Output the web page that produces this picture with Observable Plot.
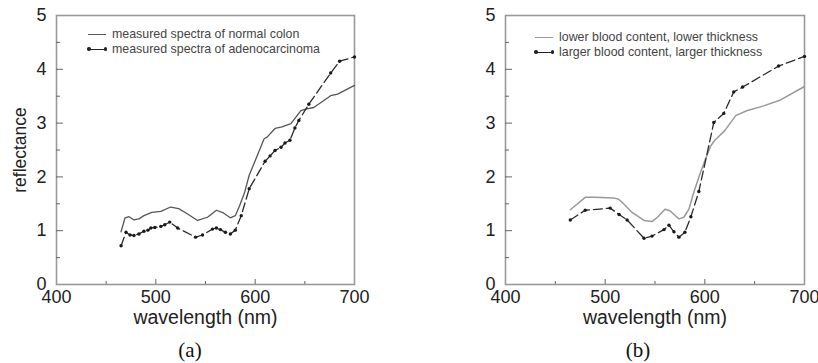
<!DOCTYPE html>
<html>
<head>
<meta charset="utf-8">
<script src="https://cdn.jsdelivr.net/npm/d3@7"></script>
<script src="https://cdn.jsdelivr.net/npm/@observablehq/plot@0.6"></script>
<style>
  html, body { margin: 0; padding: 0; background: #fff; width: 818px; height: 363px; overflow: hidden; }
  .panel { position: absolute; top: 0; }
  .panel svg { overflow: visible; }
  .cap { position: absolute; top: 338px; width: 200px; text-align: center; font: 21px "Liberation Serif", "Times New Roman", serif; line-height: 24px; color: #111; }
  .leg { position: absolute; font: 12.4px "Liberation Sans", Arial, Helvetica, sans-serif; color: #444; line-height: 16px; white-space: nowrap; }
  .samp { position: relative; display: inline-block; width: 18px; height: 16px; vertical-align: top; margin-right: 6px; }
  .samp .ln { position: absolute; left: 0; right: 0; top: 7.5px; height: 0; }
  .samp .dot { position: absolute; top: 6px; width: 3.5px; height: 3.5px; border-radius: 50%; background: #222; }
</style>
</head>
<body>
<div id="pa" class="panel" style="left:0px; width:410px;"></div>
<div id="pb" class="panel" style="left:410px; width:408px;"></div>

<div class="leg" style="left:88px; top:26px;"><span class="samp"><span class="ln" style="border-top:1.3px solid #555"></span></span>measured spectra of normal colon</div>
<div class="leg" style="left:88px; top:41px;"><span class="samp"><span class="ln" style="border-top:1.3px solid #222"></span><span class="dot" style="left:-1px"></span><span class="dot" style="right:-1px"></span></span>measured spectra of adenocarcinoma</div>

<div class="leg" style="left:535px; top:29px;"><span class="samp"><span class="ln" style="border-top:1.5px solid #999"></span></span>lower blood content, lower thickness</div>
<div class="leg" style="left:535px; top:44px;"><span class="samp"><span class="ln" style="border-top:1.3px solid #222"></span><span class="dot" style="left:-1px"></span><span class="dot" style="right:-1px"></span></span>larger blood content, larger thickness</div>

<div class="cap" style="left:90px;">(a)</div>
<div class="cap" style="left:538px;">(b)</div>

<script>
// ---- Panel (a) data ----
const normalWl = [465, 469, 473, 478, 483, 488, 496, 505, 515, 523, 532, 542, 552, 561, 568, 575, 580, 584, 589, 594, 600, 609, 612, 620, 627, 636, 641, 646, 651, 659, 676, 683, 700];
const normalR  = [0.98, 1.24, 1.26, 1.20, 1.22, 1.28, 1.34, 1.36, 1.44, 1.41, 1.31, 1.19, 1.25, 1.38, 1.33, 1.24, 1.28, 1.45, 1.69, 2.03, 2.30, 2.71, 2.74, 2.90, 2.93, 2.99, 3.11, 3.23, 3.26, 3.29, 3.51, 3.54, 3.70];
const adenoWl  = [465, 470, 474, 478, 483, 488, 492, 495, 499, 505, 509, 514, 522, 540, 547, 557, 561, 565, 570, 575, 580, 586, 594, 610, 615, 620, 626, 630, 635, 640, 644, 654, 676, 685, 700];
const adenoR   = [0.72, 0.97, 0.92, 0.91, 0.94, 0.99, 1.01, 1.05, 1.06, 1.08, 1.11, 1.16, 1.05, 0.88, 0.92, 1.03, 1.05, 1.02, 0.97, 0.94, 1.01, 1.28, 1.78, 2.29, 2.39, 2.49, 2.55, 2.63, 2.68, 2.91, 3.05, 3.35, 3.93, 4.15, 4.23];

// ---- Panel (b) data ----
const lowerWl = [465, 480, 490, 508, 513, 517, 527, 539, 547, 553, 560, 565, 574, 579, 584, 589, 595, 600, 606, 610, 620, 631, 642, 659, 676, 700];
const lowerR  = [1.39, 1.62, 1.62, 1.61, 1.59, 1.53, 1.34, 1.19, 1.17, 1.26, 1.40, 1.37, 1.22, 1.25, 1.40, 1.72, 2.05, 2.30, 2.58, 2.68, 2.86, 3.14, 3.23, 3.32, 3.43, 3.68];
const largerWl = [465, 480, 505, 514, 522, 539, 547, 559, 564, 569, 574, 580, 586, 594, 609, 619, 629, 638, 674, 700];
const largerR  = [1.20, 1.38, 1.42, 1.30, 1.20, 0.86, 0.90, 1.02, 1.10, 0.98, 0.88, 0.97, 1.26, 1.73, 3.01, 3.18, 3.58, 3.67, 4.06, 4.24];

// ---- Axis ticks ----
const xTickLabels = [400, 500, 600, 700];
const xMajorTicks = [500, 600];
const xMinorTicks = [450, 550, 650];
const yTickLabels = [0, 1, 2, 3, 4, 5];
const yMajorTicks = [1, 2, 3, 4];
const yMinorTicks = [0.5, 1.5, 2.5, 3.5, 4.5];

const toRows = (wl, r) => wl.map((w, i) => ({wl: w, r: r[i]}));
const FONT = '"Liberation Sans", Arial, Helvetica, sans-serif';

function panel({width, marginLeft, marginRight, ylabel, solid, dashed, solidColor, solidWidth}) {
  const marginTop = 15, height = 336, marginBottom = 52;
  const pw = width - marginLeft - marginRight;
  const ph = height - marginTop - marginBottom;
  const marks = [
    Plot.frame({stroke: "#999", strokeWidth: 1.6}),
    Plot.tickY(yMajorTicks, {y: d => d, stroke: "#666", strokeWidth: 1, insetRight: pw - 7}),
    Plot.tickY(yMinorTicks, {y: d => d, stroke: "#666", strokeWidth: 1, insetRight: pw - 4}),
    Plot.tickX(xMajorTicks, {x: d => d, stroke: "#666", strokeWidth: 1, insetTop: ph - 5}),
    Plot.tickX(xMinorTicks, {x: d => d, stroke: "#666", strokeWidth: 1, insetTop: ph - 3}),
    Plot.axisY({ticks: yTickLabels, tickSize: 0, tickPadding: 10, label: null, fontSize: 18, fill: "#222", tickFormat: d => String(d)}),
    Plot.axisX({ticks: xTickLabels, tickSize: 0, tickPadding: 6, label: null, fontSize: 18, fill: "#222", tickFormat: d => String(d)}),
    Plot.line(solid, {x: "wl", y: "r", stroke: solidColor, strokeWidth: solidWidth}),
    Plot.line(dashed, {x: "wl", y: "r", stroke: "#2a2a2a", strokeWidth: 1.3, strokeDasharray: "9,4"}),
    Plot.dot(dashed, {x: "wl", y: "r", r: 1.7, fill: "#1a1a1a", stroke: "none"}),
    Plot.text(["wavelength (nm)"], {frameAnchor: "bottom", textAnchor: "middle", dy: 39, fontSize: 19.5, fill: "#222"})
  ];
  if (ylabel) marks.push(Plot.text([ylabel], {frameAnchor: "left", textAnchor: "middle", dx: -36, rotate: -90, fontSize: 17.5, fill: "#222"}));
  return Plot.plot({
    width, height, marginLeft, marginRight, marginTop, marginBottom,
    style: {fontFamily: FONT, background: "transparent", overflow: "visible"},
    x: {type: "linear", domain: [400, 700]},
    y: {type: "linear", domain: [0, 5]},
    marks
  });
}

document.getElementById("pa").append(panel({
  width: 410, marginLeft: 56, marginRight: 56, ylabel: "reflectance",
  solid: toRows(normalWl, normalR), dashed: toRows(adenoWl, adenoR), solidColor: "#555", solidWidth: 1.3
}));
document.getElementById("pb").append(panel({
  width: 408, marginLeft: 95, marginRight: 14, ylabel: null,
  solid: toRows(lowerWl, lowerR), dashed: toRows(largerWl, largerR), solidColor: "#999", solidWidth: 1.5
}));
</script>
</body>
</html>
